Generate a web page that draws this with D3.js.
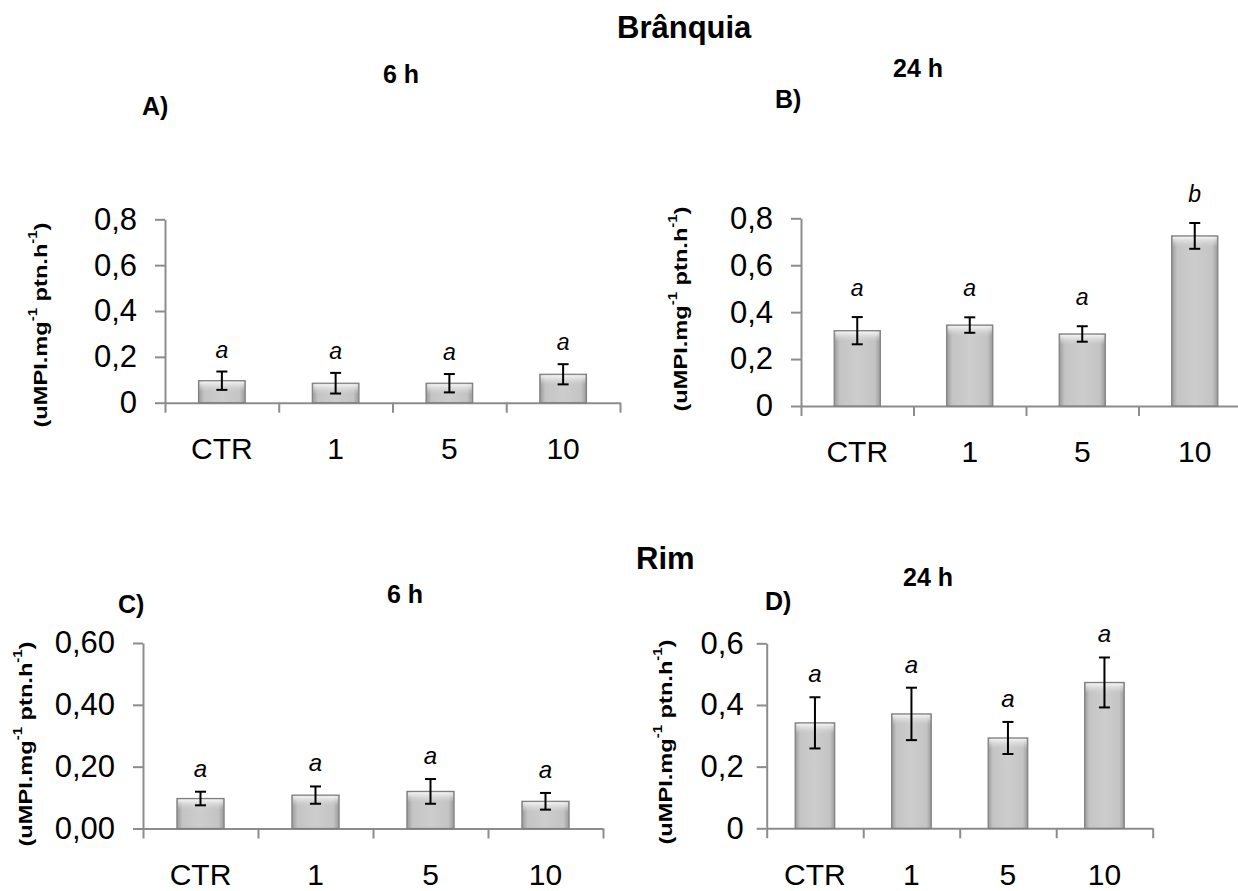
<!DOCTYPE html>
<html>
<head>
<meta charset="utf-8">
<script src="https://cdn.jsdelivr.net/npm/d3@7"></script>
<style>
  html, body { margin: 0; padding: 0; background: #ffffff; }
  #canvas svg { display: block; }
</style>
</head>
<body>
<div id="canvas"></div>
<script>
"use strict";

/* Data: categories and the four panels */
let categories = ["CTR", "1", "5", "10"];

let branquia6hMeans = [0.096, 0.085, 0.085, 0.124];
let branquia6hErrors = [0.040, 0.045, 0.040, 0.044];
let branquia6hLetters = ["a", "a", "a", "a"];

let branquia24hMeans = [0.321, 0.345, 0.307, 0.725];
let branquia24hErrors = [0.058, 0.033, 0.033, 0.055];
let branquia24hLetters = ["a", "a", "a", "b"];

let rim6hMeans = [0.097, 0.108, 0.120, 0.088];
let rim6hErrors = [0.022, 0.028, 0.040, 0.027];
let rim6hLetters = ["a", "a", "a", "a"];

let rim24hMeans = [0.342, 0.371, 0.293, 0.473];
let rim24hErrors = [0.083, 0.085, 0.052, 0.081];
let rim24hLetters = ["a", "a", "a", "a"];

/* Tick values and their labels */
let branquiaTickValues = [0, 0.2, 0.4, 0.6, 0.8];
let branquiaTickLabels = ["0", "0,2", "0,4", "0,6", "0,8"];
let rim6hTickValues = [0, 0.2, 0.4, 0.6];
let rim6hTickLabels = ["0,00", "0,20", "0,40", "0,60"];
let rim24hTickValues = [0, 0.2, 0.4, 0.6];
let rim24hTickLabels = ["0", "0,2", "0,4", "0,6"];

/* Configuration variables: drawing */
let svgWidth = 1238;
let svgHeight = 891;
let fontFamily = "'Liberation Sans', Arial, Helvetica, sans-serif";
let axisColor = "#8c8c8c";

let svg = d3.select("#canvas")
  .append("svg")
  .attr("width", svgWidth)
  .attr("height", svgHeight)
  .style("font-family", fontFamily);

/* Bar shading: darker sides, lighter middle */
let defs = svg.append("defs");
let sideGrad = defs.append("linearGradient")
  .attr("id", "barSide")
  .attr("x1", "0").attr("x2", "1").attr("y1", "0").attr("y2", "0");
sideGrad.append("stop").attr("offset", "0%").attr("stop-color", "#9a9a9a");
sideGrad.append("stop").attr("offset", "12%").attr("stop-color", "#c4c4c4");
sideGrad.append("stop").attr("offset", "50%").attr("stop-color", "#cdcdcd");
sideGrad.append("stop").attr("offset", "88%").attr("stop-color", "#c4c4c4");
sideGrad.append("stop").attr("offset", "100%").attr("stop-color", "#9a9a9a");

let topGrad = defs.append("linearGradient")
  .attr("id", "barTop")
  .attr("x1", "0").attr("x2", "0").attr("y1", "0").attr("y2", "1");
topGrad.append("stop").attr("offset", "0%").attr("stop-color", "#f6f6f6").attr("stop-opacity", 0.95);
topGrad.append("stop").attr("offset", "100%").attr("stop-color", "#d6d6d6").attr("stop-opacity", 0);

/* Panel layout */
let panels = [
  {
    means: branquia6hMeans, errors: branquia6hErrors, letters: branquia6hLetters,
    tickValues: branquiaTickValues, tickLabels: branquiaTickLabels, yMax: 0.8,
    left: 165, right: 620, top: 219.3, bottom: 402.7,
    tickPad: 18, letterGap: 14, letterSize: 23, titleX: 40, titleY: 325
  },
  {
    means: branquia24hMeans, errors: branquia24hErrors, letters: branquia24hLetters,
    tickValues: branquiaTickValues, tickLabels: branquiaTickLabels, yMax: 0.8,
    left: 801, right: 1251, top: 218.3, bottom: 406,
    tickPad: 18, letterGap: 21, letterSize: 23, titleX: 680, titleY: 309
  },
  {
    means: rim6hMeans, errors: rim6hErrors, letters: rim6hLetters,
    tickValues: rim6hTickValues, tickLabels: rim6hTickLabels, yMax: 0.6,
    left: 143, right: 603, top: 643, bottom: 828.5,
    tickPad: 18, letterGap: 15, letterSize: 24, titleX: 25, titleY: 744
  },
  {
    means: rim24hMeans, errors: rim24hErrors, letters: rim24hLetters,
    tickValues: rim24hTickValues, tickLabels: rim24hTickLabels, yMax: 0.6,
    left: 766.7, right: 1152.7, top: 643.3, bottom: 828.3,
    tickPad: 13, letterGap: 15, letterSize: 24, titleX: 665, titleY: 742
  }
];

for (let p = 0; p < panels.length; p = p + 1) {
  let panel = panels[p];
  let g = svg.append("g");

  let yScale = d3.scaleLinear()
    .domain([0, panel.yMax])
    .range([panel.bottom, panel.top]);

  let xBand = d3.scaleBand()
    .domain(categories)
    .range([panel.left, panel.right])
    .paddingInner(0.59)
    .paddingOuter(0.295);

  let xEdges = d3.scaleLinear()
    .domain([0, categories.length])
    .range([panel.left, panel.right]);

  /* Y axis */
  let yAxis = g.append("g")
    .attr("transform", "translate(" + panel.left + ",0)")
    .call(d3.axisLeft(yScale)
      .tickValues(panel.tickValues)
      .tickSize(10)
      .tickSizeOuter(0)
      .tickPadding(panel.tickPad)
      .tickFormat(function (d, i) { return panel.tickLabels[i]; }));

  /* X axis line with ticks at the category edges */
  let xAxis = g.append("g")
    .attr("transform", "translate(0," + panel.bottom + ")")
    .call(d3.axisBottom(xEdges)
      .tickValues(d3.range(categories.length + 1))
      .tickSize(10)
      .tickSizeOuter(0)
      .tickFormat(""));

  /* Category labels */
  let xLabels = g.append("g")
    .attr("transform", "translate(0," + panel.bottom + ")")
    .call(d3.axisBottom(xBand).tickSize(0).tickPadding(35));
  xLabels.select(".domain").remove();

  [yAxis, xAxis].forEach(function (ax) {
    ax.selectAll("path, line")
      .attr("stroke", axisColor)
      .attr("stroke-width", 2);
  });
  yAxis.selectAll("text")
    .attr("font-size", "31px")
    .attr("font-family", fontFamily)
    .attr("fill", "#000");
  xLabels.selectAll("text")
    .attr("font-size", "30px")
    .attr("font-family", fontFamily)
    .attr("fill", "#000");

  /* Bars */
  let rows = categories.map(function (c, i) {
    return { cat: c, mean: panel.means[i], err: panel.errors[i], letter: panel.letters[i] };
  });

  g.selectAll(".bar")
    .data(rows)
    .enter()
    .append("rect")
    .attr("class", "bar")
    .attr("x", function (d) { return xBand(d.cat); })
    .attr("y", function (d) { return yScale(d.mean); })
    .attr("width", xBand.bandwidth())
    .attr("height", function (d) { return panel.bottom - yScale(d.mean); })
    .attr("fill", "url(#barSide)")
    .attr("stroke", "#7e7e7e")
    .attr("stroke-width", 1.2);

  g.selectAll(".bartop")
    .data(rows)
    .enter()
    .append("rect")
    .attr("class", "bartop")
    .attr("x", function (d) { return xBand(d.cat) + 1; })
    .attr("y", function (d) { return yScale(d.mean) + 1; })
    .attr("width", xBand.bandwidth() - 2)
    .attr("height", function (d) { return Math.min(10, panel.bottom - yScale(d.mean) - 2); })
    .attr("fill", "url(#barTop)");

  /* Error bars */
  let capHalf = 5.5;
  let errs = g.selectAll(".err")
    .data(rows)
    .enter()
    .append("g")
    .attr("class", "err")
    .attr("stroke", "#000")
    .attr("stroke-width", 2);

  errs.append("line")
    .attr("x1", function (d) { return xBand(d.cat) + xBand.bandwidth() / 2; })
    .attr("x2", function (d) { return xBand(d.cat) + xBand.bandwidth() / 2; })
    .attr("y1", function (d) { return yScale(d.mean + d.err); })
    .attr("y2", function (d) { return yScale(d.mean - d.err); });
  errs.append("line")
    .attr("x1", function (d) { return xBand(d.cat) + xBand.bandwidth() / 2 - capHalf; })
    .attr("x2", function (d) { return xBand(d.cat) + xBand.bandwidth() / 2 + capHalf; })
    .attr("y1", function (d) { return yScale(d.mean + d.err); })
    .attr("y2", function (d) { return yScale(d.mean + d.err); });
  errs.append("line")
    .attr("x1", function (d) { return xBand(d.cat) + xBand.bandwidth() / 2 - capHalf; })
    .attr("x2", function (d) { return xBand(d.cat) + xBand.bandwidth() / 2 + capHalf; })
    .attr("y1", function (d) { return yScale(d.mean - d.err); })
    .attr("y2", function (d) { return yScale(d.mean - d.err); });

  /* Significance letters */
  g.selectAll(".letter")
    .data(rows)
    .enter()
    .append("text")
    .attr("class", "letter")
    .attr("x", function (d) { return xBand(d.cat) + xBand.bandwidth() / 2; })
    .attr("y", function (d) { return yScale(d.mean + d.err) - panel.letterGap; })
    .attr("text-anchor", "middle")
    .attr("font-style", "italic")
    .attr("font-size", panel.letterSize + "px")
    .text(function (d) { return d.letter; });

  /* Y axis title with superscripts */
  let yTitle = g.append("text")
    .attr("transform", "translate(" + panel.titleX + "," + panel.titleY + ") rotate(-90)")
    .attr("text-anchor", "middle")
    .attr("dominant-baseline", "central")
    .attr("font-weight", "bold")
    .attr("font-size", "19px")
    .attr("textLength", 205)
    .attr("lengthAdjust", "spacingAndGlyphs");
  yTitle.append("tspan").text("(uMPI.mg");
  yTitle.append("tspan").attr("dy", -7).attr("font-size", "12px").text("-1");
  yTitle.append("tspan").attr("dy", 7).text(" ptn.h");
  yTitle.append("tspan").attr("dy", -7).attr("font-size", "12px").text("-1");
  yTitle.append("tspan").attr("dy", 7).text(")");
}

/* Titles and panel letters */
let headings = [
  { text: "Brânquia", x: 617, y: 38, size: 31 },
  { text: "6 h", x: 383, y: 83, size: 25 },
  { text: "A)", x: 142, y: 115, size: 25 },
  { text: "24 h", x: 893, y: 77, size: 25 },
  { text: "B)", x: 775, y: 108, size: 25 },
  { text: "Rim", x: 636, y: 569, size: 31 },
  { text: "6 h", x: 387, y: 603, size: 25 },
  { text: "C)", x: 118, y: 613, size: 25 },
  { text: "24 h", x: 903, y: 586, size: 25 },
  { text: "D)", x: 765, y: 610, size: 25 }
];

svg.selectAll(".heading")
  .data(headings)
  .enter()
  .append("text")
  .attr("class", "heading")
  .attr("x", function (d) { return d.x; })
  .attr("y", function (d) { return d.y; })
  .attr("font-weight", "bold")
  .attr("font-size", function (d) { return d.size + "px"; })
  .text(function (d) { return d.text; });
</script>
</body>
</html>
